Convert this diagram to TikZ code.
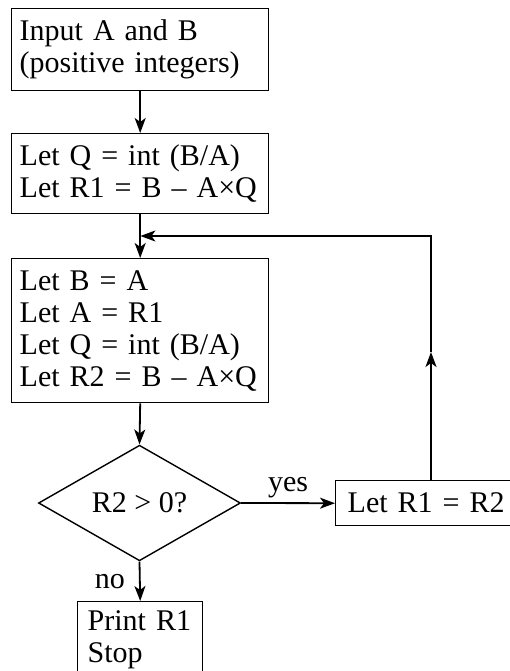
\documentclass[tikz,border=0pt]{standalone}
\usepackage{fontspec}
\setmainfont{Liberation Serif}
\usetikzlibrary{arrows.meta,shapes.geometric}
\begin{document}
\begin{tikzpicture}[x=1pt,y=-1pt,
  txt/.style={font=\fontsize{30}{32}\selectfont},
  box/.style={txt,draw,line width=1.4pt,anchor=north west,align=left,inner xsep=8pt,inner ysep=0pt},
  dec/.style={txt,draw,diamond,line width=1.4pt,minimum width=202pt,minimum height=112pt,inner sep=0pt},
  conn/.style={line width=1.8pt,-{Stealth[length=15pt,width=11pt,inset=4pt]}},
  lbl/.style={txt}
]
\useasboundingbox (0,0) rectangle (509,671);
\node[box,text width=241pt,minimum height=82pt] (b1) at (11,8) {Input A and B\\(positive integers)};
\node[box,text width=241pt,minimum height=80pt] (b2) at (11,133) {Let Q = int (B/A)\\Let R1 = B – A×Q};
\node[box,text width=241pt,minimum height=144pt] (b3) at (11,258) {Let B = A\\Let A = R1\\Let Q = int (B/A)\\Let R2 = B – A×Q};
\node[dec] (d) at (139.5,503) {R2 > 0?};
\node[box,text width=170pt,minimum height=45pt,inner xsep=12pt] (r) at (335,480) {Let R1 = R2};
\node[box,text width=105pt,minimum height=76pt,inner xsep=10pt] (p) at (77,601) {Print R1\\Stop};
\coordinate (j) at (139.5,236);
\coordinate (c) at (431,236);
\coordinate (m) at (431,352);
\draw[conn] (b1.south) -- (b2.north);
\draw[conn] (b2.south) -- (b3.north);
\draw[conn] (b3.south) -- (d.north);
\draw[conn] (d.east) -- node[lbl,midway,above,inner sep=4pt] {yes} (r.west);
\draw[conn] (d.south) -- node[lbl,midway,left,inner xsep=14pt,inner ysep=0pt] {no} (p.north);
\draw[conn] (c |- r.north) -- (m);
\draw[conn,shorten >=0.9pt] (m) -- (c) -- (j);
\end{tikzpicture}
\end{document}
